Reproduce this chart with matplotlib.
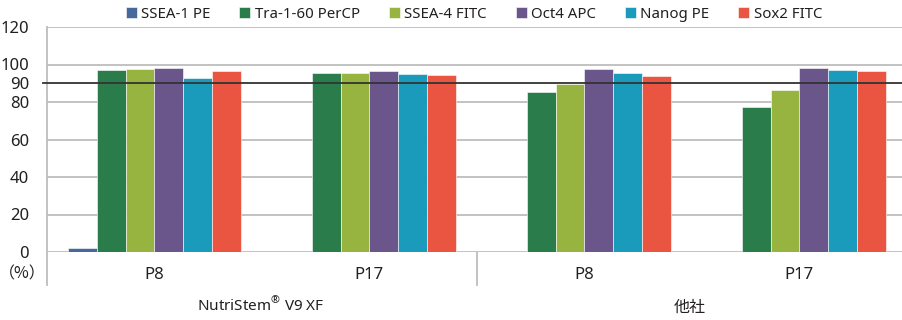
import matplotlib.pyplot as plt
from matplotlib.lines import Line2D
import numpy as np

plt.rcParams['font.family'] = ['Noto Sans', 'Noto Sans CJK JP', 'DejaVu Sans']

# data
groups = ["P8", "P17", "P8", "P17"]
companies = [r"NutriStem$^{\mathregular{®}}$ V9 XF", "他社"]
markers = ["SSEA-1 PE", "Tra-1-60 PerCP", "SSEA-4 FITC", "Oct4 APC", "Nanog PE", "Sox2 FITC"]
ssea1 = [2.0, 0, 0, 0]
tra160 = [97.3, 95.5, 85.5, 77.3]
ssea4 = [97.6, 95.5, 89.8, 86.4]
oct4 = [97.9, 96.8, 97.6, 98.1]
nanog = [92.8, 95.2, 95.5, 97.1]
sox2 = [96.3, 94.4, 93.7, 96.7]
yticks = [0, 20, 40, 60, 80, 90, 100, 120]

series = [ssea1, tra160, ssea4, oct4, nanog, sox2]
colors = ["#46689C", "#2A7D4A", "#98B440", "#6B568B", "#1A9BBC", "#E95541"]

fig = plt.figure(figsize=(9.03, 3.2), dpi=100)
axw = 860
ax = fig.add_axes([47/903, 1 - 252/320, axw/903, 225/320])

x = np.arange(len(groups))
w = 0.134
for i, (vals, c) in enumerate(zip(series, colors)):
    ax.bar(x + (i - 2.5) * w, vals, w, color=c, edgecolor="white", linewidth=0.4,
           label=markers[i], zorder=3)

ax.set_xlim(-0.5, 3.5)
ax.set_ylim(0, 120)
ax.set_yticks(yticks)
ax.tick_params(axis="y", length=0, labelsize=12, pad=13, colors="#231F20")
ax.set_xticks(x)
ax.set_xticklabels(groups)
ax.tick_params(axis="x", length=0, labelsize=12, pad=11, colors="#231F20")
for v in [0, 20, 40, 60, 80, 100, 120]:
    ax.axhline(v, color="#BDBDBD", linewidth=1.3, zorder=1)
ax.axhline(90, xmin=-4/axw, xmax=1.0, color="#333333", linewidth=1.3, zorder=4, clip_on=False)

for s in ax.spines.values():
    s.set_visible(False)

# left axis line and group separator, extending below the axis
ax.add_line(Line2D([0, 0], [-0.147, 1], transform=ax.transAxes, color="#BDBDBD",
                   linewidth=1.3, clip_on=False))
ax.add_line(Line2D([0.5, 0.5], [-0.147, 0], transform=ax.transAxes, color="#BDBDBD",
                   linewidth=1.3, clip_on=False))

fig.text(22/903, 1 - 274/320, "（%）", fontsize=11.5, ha="center", va="center", color="#231F20",
         family=['Noto Sans CJK JP', 'DejaVu Sans'])
fig.text(261/903, 1 - 306/320, companies[0], fontsize=11, ha="center", va="center", color="#231F20")
fig.text(690/903, 1 - 308/320, companies[1], fontsize=11.5, ha="center", va="center", color="#231F20")

fig.legend(loc="center", bbox_to_anchor=(474/903, 1 - 14/320), ncol=6, frameon=False,
           fontsize=10.8, handlelength=0.75, handleheight=0.75, handletextpad=0.3,
           columnspacing=1.9, labelcolor="#231F20")

fig.savefig("out.png", dpi=100)
